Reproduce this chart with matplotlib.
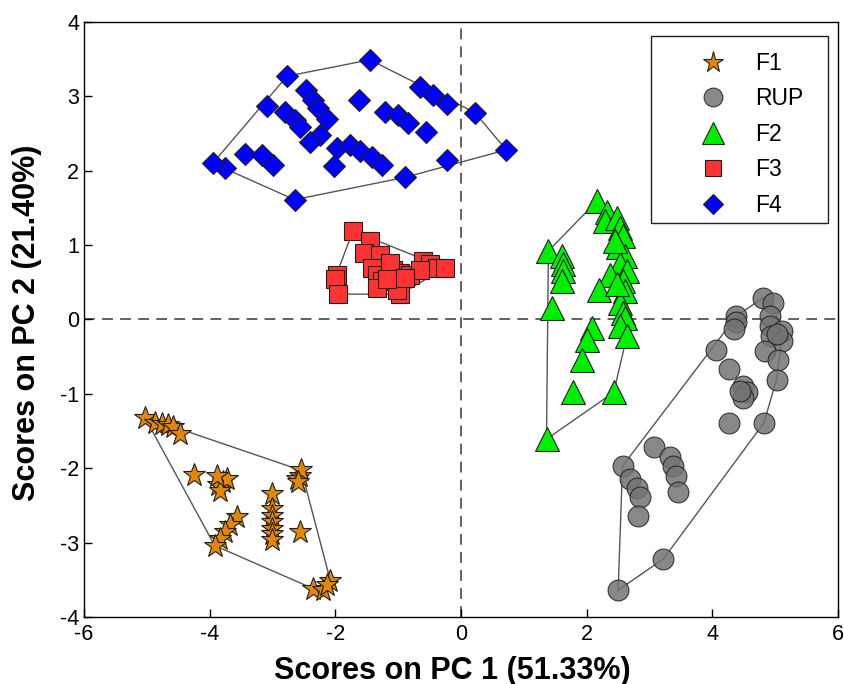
import matplotlib.pyplot as plt
from matplotlib.patches import Rectangle
import numpy as np

plt.rcParams['font.family'] = ['Liberation Sans', 'DejaVu Sans']
plt.rcParams['axes.unicode_minus'] = False

# PCA scores
f1_x = [-5.03, -4.87, -4.76, -4.66, -4.58, -4.47, -4.25, -3.86, -3.78, -3.73, -3.84,
        -3.57, -3.68, -3.76, -3.84, -3.92, -3.01, -3.01, -3.01, -3.01, -3.01, -3.01,
        -3.01, -2.56, -2.56, -2.61, -2.54, -2.59, -2.35, -2.19, -2.08, -2.14, -3.89]
f1_y = [-1.32, -1.39, -1.41, -1.42, -1.45, -1.54, -2.09, -2.23, -2.19, -2.14, -2.30,
        -2.66, -2.77, -2.86, -2.95, -3.04, -2.35, -2.55, -2.64, -2.73, -2.82, -2.88,
        -2.97, -2.86, -2.10, -2.14, -2.03, -2.19, -3.62, -3.64, -3.51, -3.57, -2.10]

rup_x = [4.80, 4.96, 4.38, 4.38, 4.35, 4.92, 4.92, 5.10, 4.94, 5.10, 4.84, 5.05,
         4.06, 4.27, 5.02, 4.49, 4.55, 4.49, 4.44, 4.27, 4.82, 3.07, 3.33, 3.38,
         3.42, 3.46, 2.57, 2.69, 2.80, 2.84, 2.82, 3.22, 2.50, 5.02]
rup_y = [0.29, 0.22, 0.04, -0.04, -0.13, 0.04, -0.09, -0.16, -0.22, -0.29, -0.42,
         -0.54, -0.41, -0.66, -0.81, -0.89, -0.98, -1.05, -0.96, -1.39, -1.39, -1.72,
         -1.85, -1.97, -2.10, -2.32, -1.97, -2.14, -2.26, -2.39, -2.64, -3.22, -3.64,
         -0.20]

f2_x = [2.16, 1.39, 1.60, 1.63, 1.63, 1.60, 1.44, 2.32, 2.29, 2.48, 2.53, 2.58,
        2.50, 2.61, 2.53, 2.64, 2.37, 2.19, 2.58, 2.61, 2.53, 2.58, 2.61, 2.53,
        2.64, 2.08, 2.00, 1.92, 1.78, 2.43, 1.36, 2.48, 2.45]
f2_y = [1.59, 0.92, 0.85, 0.74, 0.65, 0.51, 0.16, 1.45, 1.32, 1.36, 1.23, 1.12,
        0.98, 0.85, 0.74, 0.65, 0.60, 0.40, 0.51, 0.38, 0.22, 0.09, 0.02, -0.09,
        -0.22, -0.11, -0.27, -0.54, -0.98, -0.98, -1.61, 0.47, 1.05]

f3_x = [-1.72, -1.45, -1.55, -1.29, -1.98, -2.01, -1.95, -1.42, -1.34, -1.26, -1.08,
        -0.97, -1.13, -0.97, -1.02, -0.60, -0.49, -0.39, -0.25, -1.34, -1.18, -0.81,
        -0.65, -0.89]
f3_y = [1.19, 1.05, 0.89, 0.87, 0.60, 0.54, 0.34, 0.69, 0.60, 0.51, 0.67, 0.63,
        0.76, 0.34, 0.40, 0.78, 0.74, 0.69, 0.69, 0.42, 0.54, 0.60, 0.67, 0.56]

f4_x = [-1.45, -2.77, -0.65, -0.44, -0.23, 0.22, 0.72, -0.23, -0.89, -2.65, -3.76,
        -3.95, -3.08, -3.44, -3.17, -2.99, -2.80, -2.64, -2.56, -2.46, -2.35, -2.27,
        -2.14, -2.24, -2.40, -1.63, -1.21, -1.00, -0.84, -0.55, -1.98, -1.77, -1.61,
        -1.42, -1.25, -2.02]
f4_y = [3.49, 3.27, 3.13, 3.02, 2.90, 2.78, 2.28, 2.14, 1.91, 1.61, 2.03, 2.10,
        2.87, 2.23, 2.21, 2.08, 2.79, 2.68, 2.59, 3.08, 2.95, 2.84, 2.70, 2.48,
        2.39, 2.95, 2.79, 2.75, 2.64, 2.52, 2.30, 2.35, 2.26, 2.19, 2.08, 2.06]

groups = ['F1', 'RUP', 'F2', 'F3', 'F4']


def convex_hull(xs, ys):
    # monotone chain, returns closed polygon
    pts = sorted(set(zip(xs, ys)))

    def cross(o, a, b):
        return (a[0] - o[0]) * (b[1] - o[1]) - (a[1] - o[1]) * (b[0] - o[0])

    lower = []
    for p in pts:
        while len(lower) >= 2 and cross(lower[-2], lower[-1], p) <= 0:
            lower.pop()
        lower.append(p)
    upper = []
    for p in reversed(pts):
        while len(upper) >= 2 and cross(upper[-2], upper[-1], p) <= 0:
            upper.pop()
        upper.append(p)
    hull = lower[:-1] + upper[:-1]
    hull.append(hull[0])
    return np.array(hull)


fig = plt.figure(figsize=(8.44, 6.84), dpi=100)
ax = fig.add_axes([0.0995, 0.098, 0.8935, 0.870])

# reference lines
ax.axvline(0, color='#555555', linestyle=(0, (6, 4)), linewidth=1.3, zorder=1)
ax.axhline(0, color='#555555', linestyle=(0, (6, 4)), linewidth=1.3, zorder=1)

styles = {
    'F1': dict(marker='*', color='#E3860C', ms=17, alpha=1.0),
    'RUP': dict(marker='o', color='#737373', ms=15, alpha=0.85),
    'F2': dict(marker='^', color='#00EE00', ms=17, alpha=1.0),
    'F3': dict(marker='s', color='#FF3333', ms=12.5, alpha=1.0),
    'F4': dict(marker='D', color='#0000FF', ms=11.5, alpha=1.0),
}
data = {
    'F1': (f1_x, f1_y),
    'RUP': (rup_x, rup_y),
    'F2': (f2_x, f2_y),
    'F3': (f3_x, f3_y),
    'F4': (f4_x, f4_y),
}

for g in groups:
    xs, ys = data[g]
    h = convex_hull(xs, ys)
    ax.plot(h[:, 0], h[:, 1], color='#555555', linewidth=1.0, zorder=2)

for g in groups:
    xs, ys = data[g]
    st = styles[g]
    ax.plot(xs, ys, linestyle='none', marker=st['marker'], markersize=st['ms'],
            markerfacecolor=st['color'], markeredgecolor='#202020',
            markeredgewidth=0.8, alpha=st['alpha'], label=g, zorder=3)

ax.set_xlim(-6, 6)
ax.set_ylim(-4, 4)
ax.set_xticks([-6, -4, -2, 0, 2, 4, 6])
ax.set_yticks([-4, -3, -2, -1, 0, 1, 2, 3, 4])
ax.tick_params(direction='in', length=6, width=1, labelsize=15.5, top=False, right=False)
ax.tick_params(axis='x', pad=5)
for s in ax.spines.values():
    s.set_linewidth(1.0)

ax.set_xlabel('Scores on PC 1 (51.33%)', fontsize=22, fontweight='bold')
ax.set_ylabel('Scores on PC 2 (21.40%)', fontsize=22, fontweight='bold')
ax.xaxis.set_label_coords(0.488, -0.065)
ax.yaxis.set_label_coords(-0.056, 0.494)

# legend box drawn separately so marker/text spacing can match
ax.add_patch(Rectangle((0.752, 0.6616), 0.235, 0.315, transform=ax.transAxes,
                       facecolor='white', edgecolor='#222222', linewidth=1.0, zorder=4))
leg = ax.legend(loc='upper left', bbox_to_anchor=(0.8037, 0.950), fontsize=16.5,
                frameon=False, markerscale=0.9, borderaxespad=0, borderpad=0,
                handlelength=2.0, labelspacing=0.55, handletextpad=0.85)
leg.set_zorder(5)

plt.savefig('out.png', dpi=100)
